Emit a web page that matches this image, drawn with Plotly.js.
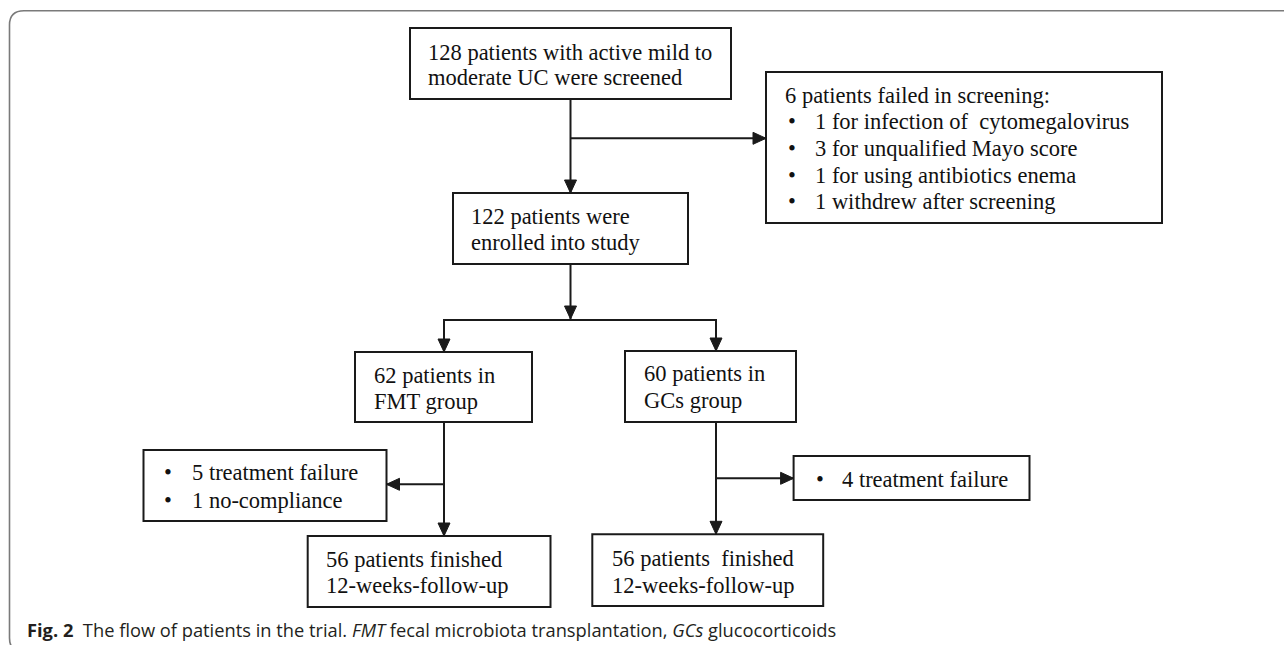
<!DOCTYPE html>
<html>
<head>
<meta charset="utf-8">
<script src="https://cdn.plot.ly/plotly-3.0.1.min.js"></script>
<style>
html,body{margin:0;padding:0;background:#ffffff;}
#chart{width:1284px;height:645px;}
</style>
</head>
<body>
<div id="chart"></div>
<script>
// ---------------- DATA ----------------
const screenedCount = 128;
const enrolledCount = 122;
const failedCount = 6;
const failedReasonCounts = [1, 3, 1, 1];
const failedReasonLabels = ["for infection of\u00a0 cytomegalovirus", "for unqualified Mayo score", "for using antibiotics enema", "withdrew after screening"];
const groupNames = ["FMT", "GCs"];
const groupCounts = [62, 60];
const fmtLossCounts = [5, 1];
const fmtLossLabels = ["treatment failure", "no-compliance"];
const gcsLossCounts = [4];
const gcsLossLabels = ["treatment failure"];
const finishedCounts = [56, 56];
const finishedGap = ["", "\u00a0"];
const captionText = "<b>Fig. 2</b>\u00a0 The flow of patients in the trial. <i>FMT</i> fecal microbiota transplantation, <i>GCs</i> glucocorticoids";

// ---------------- LAYOUT GEOMETRY (pixels) ----------------
const G = {
  screened: {x0: 410, x1: 731, y0: 28, y1: 99, tx: 426, ty: [52, 77.5]},
  excluded: {x0: 766, x1: 1162, y0: 72, y1: 223, tx: 783, ty: [95], bx: 786, lx: 813, ly: [121.7, 148.3, 175, 201.7]},
  enrolled: {x0: 453, x1: 688, y0: 193, y1: 264, tx: 469, ty: [216.7, 242.3]},
  group: [
    {x0: 355, x1: 532, y0: 352, y1: 422, tx: 372, ty: [375, 401.7]},
    {x0: 625, x1: 796, y0: 351, y1: 422, tx: 642, ty: [373.3, 400]}
  ],
  loss: [
    {x0: 143.5, x1: 386.5, y0: 450, y1: 521, bx: 162, lx: 190, ly: [472.7, 500]},
    {x0: 793.6, x1: 1029.5, y0: 456, y1: 500, bx: 813.5, lx: 840, ly: [479]}
  ],
  done: [
    {x0: 307.7, x1: 550.5, y0: 536, y1: 607, tx: 324, ty: [559, 585.7]},
    {x0: 592.3, x1: 823.2, y0: 534.3, y1: 606, tx: 610, ty: [558, 585]}
  ],
  mainX: 570.5, exclY: 138.3, branchY: 320,
  groupX: [444, 716], lossY: [484.3, 478.3]
};

const INK = "#1a1a1a";
const FONT = {family: "Liberation Serif, Times New Roman, serif", size: 22.5, color: "#111111"};

const shapes = [];
const annotations = [];

function box(b) {
  shapes.push({type: "rect", xref: "x", yref: "y", x0: b.x0, x1: b.x1, y0: b.y0, y1: b.y1,
    line: {color: INK, width: 2}, fillcolor: "rgba(0,0,0,0)"});
}
function seg(x0, y0, x1, y1) {
  shapes.push({type: "line", xref: "x", yref: "y", x0: x0, y0: y0, x1: x1, y1: y1,
    line: {color: INK, width: 2}});
}
function head(tx, ty, dir) {
  const L = 13, W = 6;
  let p;
  if (dir === "down") p = `M ${tx} ${ty} L ${tx - W} ${ty - L} L ${tx + W} ${ty - L} Z`;
  else if (dir === "right") p = `M ${tx} ${ty} L ${tx - L} ${ty - W} L ${tx - L} ${ty + W} Z`;
  else p = `M ${tx} ${ty} L ${tx + L} ${ty - W} L ${tx + L} ${ty + W} Z`;
  shapes.push({type: "path", xref: "x", yref: "y", path: p, fillcolor: INK, line: {color: INK, width: 1}});
}
function arrow(x0, y0, x1, y1, dir) { seg(x0, y0, x1, y1); head(x1, y1, dir); }
function txt(x, y, s) {
  annotations.push({xref: "x", yref: "y", x: x, y: y, text: s, showarrow: false,
    xanchor: "left", yanchor: "middle", font: FONT});
}
function bullet(x, y) { txt(x, y, "\u2022"); }

// frame
shapes.push({type: "path", xref: "x", yref: "y",
  path: "M 1300 10.7 L 24 10.7 Q 9.5 10.7 9.5 25 L 9.5 638 Q 9.5 652 24 652",
  line: {color: "#7a7a7a", width: 1.6}});

// boxes
[G.screened, G.excluded, G.enrolled].concat(G.group, G.loss, G.done).forEach(box);

// texts
txt(G.screened.tx, G.screened.ty[0], screenedCount + " patients with active mild to");
txt(G.screened.tx, G.screened.ty[1], "moderate UC were screened");
txt(G.excluded.tx, G.excluded.ty[0], failedCount + " patients failed in screening:");
failedReasonCounts.forEach((c, i) => {
  bullet(G.excluded.bx, G.excluded.ly[i]);
  txt(G.excluded.lx, G.excluded.ly[i], c + " " + failedReasonLabels[i]);
});
txt(G.enrolled.tx, G.enrolled.ty[0], enrolledCount + " patients were");
txt(G.enrolled.tx, G.enrolled.ty[1], "enrolled into study");
groupNames.forEach((g, i) => {
  txt(G.group[i].tx, G.group[i].ty[0], groupCounts[i] + " patients in");
  txt(G.group[i].tx, G.group[i].ty[1], g + " group");
  txt(G.done[i].tx, G.done[i].ty[0], finishedCounts[i] + " patients " + finishedGap[i] + "finished");
  txt(G.done[i].tx, G.done[i].ty[1], "12-weeks-follow-up");
});
[[fmtLossCounts, fmtLossLabels], [gcsLossCounts, gcsLossLabels]].forEach((pair, i) => {
  pair[0].forEach((c, j) => {
    bullet(G.loss[i].bx, G.loss[i].ly[j]);
    txt(G.loss[i].lx, G.loss[i].ly[j], c + " " + pair[1][j]);
  });
});

// connectors
arrow(G.mainX, G.screened.y1, G.mainX, G.enrolled.y0, "down");
arrow(G.mainX, G.exclY, G.excluded.x0, G.exclY, "right");
arrow(G.mainX, G.enrolled.y1, G.mainX, G.branchY - 1, "down");
seg(G.groupX[0] - 1, G.branchY, G.groupX[1] + 1, G.branchY);
arrow(G.groupX[0], G.branchY, G.groupX[0], G.group[0].y0, "down");
arrow(G.groupX[1], G.branchY, G.groupX[1], G.group[1].y0, "down");
arrow(G.groupX[0], G.group[0].y1, G.groupX[0], G.done[0].y0, "down");
arrow(G.groupX[1], G.group[1].y1, G.groupX[1], G.done[1].y0, "down");
arrow(G.groupX[0], G.lossY[0], G.loss[0].x1, G.lossY[0], "left");
arrow(G.groupX[1], G.lossY[1], G.loss[1].x0, G.lossY[1], "right");

// caption
annotations.push({xref: "x", yref: "y", x: 25, y: 629.5, text: captionText, showarrow: false,
  xanchor: "left", yanchor: "middle",
  font: {family: "Open Sans, Noto Sans, sans-serif", size: 18.3, color: "#231f20"}});

const layout = {
  width: 1284, height: 645,
  margin: {l: 0, r: 0, t: 0, b: 0, pad: 0},
  paper_bgcolor: "#ffffff", plot_bgcolor: "#ffffff",
  showlegend: false,
  xaxis: {range: [0, 1284], visible: false, fixedrange: true},
  yaxis: {range: [645, 0], visible: false, fixedrange: true},
  shapes: shapes,
  annotations: annotations
};

Plotly.newPlot("chart", [{x: [], y: [], type: "scatter", mode: "markers", hoverinfo: "skip"}], layout,
  {staticPlot: true, displayModeBar: false});
</script>
</body>
</html>
